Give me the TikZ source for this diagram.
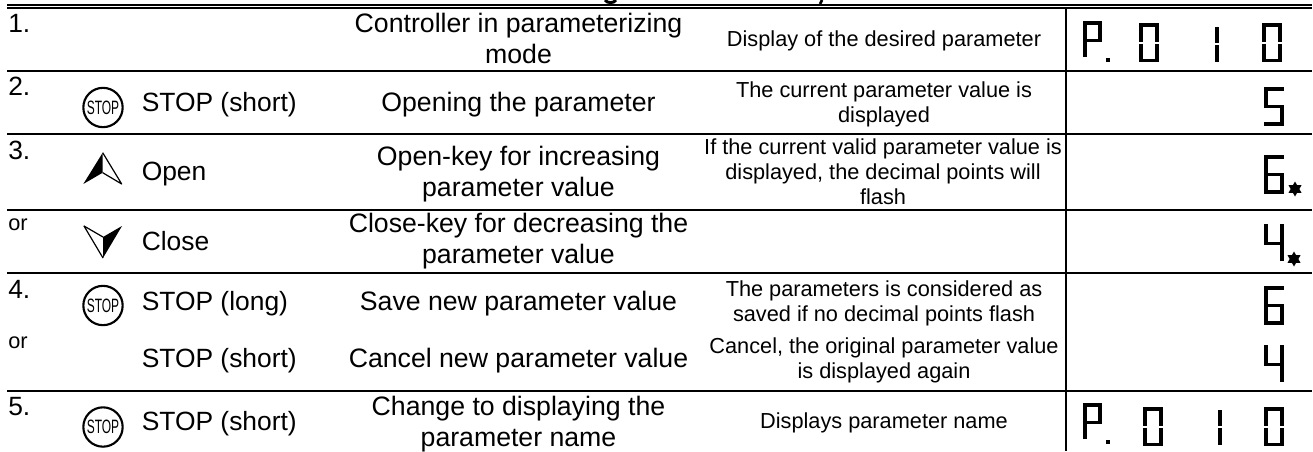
\documentclass[tikz,border=0pt]{standalone}
\usepackage{graphicx}
\usepackage{fontspec}
\setmainfont{Liberation Sans}
\tikzset{
  rulefill/.style={line width=1.6pt,draw=black},
  seg/.style={line width=2.9pt,draw=black,miter limit=10},
  big/.style={font=\fontsize{20}{23.25}\selectfont,inner sep=0pt,anchor=base,align=center},
  bigl/.style={font=\fontsize{19.8}{23.25}\selectfont,inner sep=0pt,anchor=base west},
  small/.style={font=\fontsize{16.3}{18.75}\selectfont,inner sep=0pt,anchor=base,align=center},
  smalll/.style={font=\fontsize{16.3}{18.75}\selectfont,inner sep=0pt,anchor=base west},
  stopkey/.style={circle,draw=black,line width=1.6pt,minimum size=29.5pt,inner sep=0pt,font=\fontsize{14.5}{14.5}\selectfont},
}
\newcommand{\dgzero}[2]{\begin{scope}[shift={(#1,#2)}]
  \draw[seg] (2,18.5)--(2,2)--(18,2)--(18,18.5);
  \draw[seg] (2,20.5)--(2,37.5)--(18,37.5)--(18,20.5);
\end{scope}}
\newcommand{\dgone}[2]{\begin{scope}[shift={(#1,#2)}]
  \draw[seg] (2,0)--(2,16);
  \draw[seg] (2,18)--(2,35);
\end{scope}}
\newcommand{\dgP}[2]{\begin{scope}[shift={(#1,#2)}]
  \draw[seg] (2,36)--(2,2)--(17,2)--(17,19.5)--(2,19.5);
  \fill (22.5,37) rectangle (27,41);
\end{scope}}
\newcommand{\dgfive}[2]{\begin{scope}[shift={(#1,#2)}]
  \draw[seg] (20,2)--(2,2)--(2,19.5)--(18,19.5)--(18,37)--(0,37);
\end{scope}}
\newcommand{\dgsix}[2]{\begin{scope}[shift={(#1,#2)}]
  \draw[seg] (20,2)--(2,2)--(2,37)--(18,37)--(18,19.5)--(2,19.5);
\end{scope}}
\newcommand{\dgfour}[2]{\begin{scope}[shift={(#1,#2)}]
  \draw[seg] (2,0)--(2,19.5)--(18,19.5);
  \draw[seg] (18,0)--(18,37);
\end{scope}}
\newcommand{\flashstar}[2]{\begin{scope}[shift={(#1,#2)}]
  \fill (0,-7.5)--(6.5,3.8)--(-6.5,3.8)--cycle;
  \fill (0,7.5)--(6.5,-3.8)--(-6.5,-3.8)--cycle;
\end{scope}}
\begin{document}
\begin{tikzpicture}[x=.75pt,y=-.75pt]
\useasboundingbox (0,0) rectangle (1313,451);
% cut title descenders
\draw[line width=2.2pt] (605,0) .. controls (607,3.5) and (614,3.5) .. (616,0);
\draw[line width=2pt] (820,4) -- (822,0);
% rules
\draw[rulefill] (7,5)--(1312,5);
\draw[rulefill] (7,8)--(1312,8);
\draw[rulefill] (7,70.7)--(1312,70.7);
\draw[rulefill] (7,133.7)--(1312,133.7);
\draw[rulefill] (7,210)--(1312,210);
\draw[rulefill] (7,272.7)--(1312,272.7);
\draw[rulefill] (7,390.7)--(1312,390.7);
\draw[rulefill] (1066,8)--(1066,451);
% step numbers
\node[bigl] (n1) at (8,32) {1.};
\node[bigl] (n2) at (8,95) {2.};
\node[bigl] (n3) at (8,159) {3.};
\node[smalll] (or1) at (8,230) {or};
\node[bigl] (n4) at (8,298) {4.};
\node[smalll] (or2) at (8,348) {or};
\node[bigl] (n5) at (8,415) {5.};
% keys
\node[stopkey] (k2) at (103,107.5) {\scalebox{.62}[1]{STOP}};
\node[stopkey] (k4) at (103,305.5) {\scalebox{.62}[1]{STOP}};
\node[stopkey] (k5) at (103,427) {\scalebox{.62}[1]{STOP}};
\fill (102.7,152.7)--(83.3,184)--(102.7,172.7)--cycle;
\draw[line width=.9pt,line join=round] (102.7,152.7)--(121.7,184)--(102.7,172.7);
\fill (103,258)--(122,226)--(103,237)--cycle;
\draw[line width=.9pt,line join=round] (103,258)--(84,226)--(103,237);
% key labels
\node[bigl] (l2) at (141.5,111.5) {STOP (short)};
\node[bigl] (l3) at (141.5,180.7) {Open};
\node[bigl] (l3b) at (141.5,250) {Close};
\node[bigl] (l4) at (141.5,310.7) {STOP (long)};
\node[bigl] (l4b) at (141.5,367.7) {STOP (short)};
\node[bigl] (l5) at (141.5,430.7) {STOP (short)};
% actions
\node[big] (a1) at (518.5,63) {Controller in parameterizing\\mode};
\node[big] (a2) at (518.5,111.3) {Opening the parameter};
\node[big] (a3) at (518.5,196.5) {Open-key for increasing\\parameter value};
\node[big] (a3b) at (518.5,263) {Close-key for decreasing the\\parameter value};
\node[big] (a4) at (518.5,310) {Save new parameter value};
\node[big] (a4b) at (518.5,367.7) {Cancel new parameter value};
\node[big] (a5) at (518.5,446) {Change to displaying the\\parameter name};
% results
\node[small] (r1) at (884,46) {Display of the desired parameter};
\node[small] (r2) at (884,122) {The current parameter value is\\displayed};
\node[small] (r3) at (883,204) {If the current valid parameter value is\\displayed, the decimal points will\\flash};
\node[small] (r4) at (884,321) {The parameters is considered as\\saved if no decimal points flash};
\node[small] (r4b) at (884,378) {Cancel, the original parameter value\\is displayed again};
\node[small] (r5) at (884,428) {Displays parameter name};
% displays
\dgP{1083}{21}\dgzero{1139}{23}\dgone{1215}{27}\dgzero{1262}{23}
\dgfive{1264}{87}
\dgsix{1264}{155}\flashstar{1295}{189}
\dgfour{1264}{224}\flashstar{1294}{259}
\dgsix{1264}{286}
\dgfour{1264}{345}
\dgP{1083}{403}\dgzero{1143}{407}\dgone{1218}{410}\dgzero{1264}{407}
\end{tikzpicture}
\end{document}
